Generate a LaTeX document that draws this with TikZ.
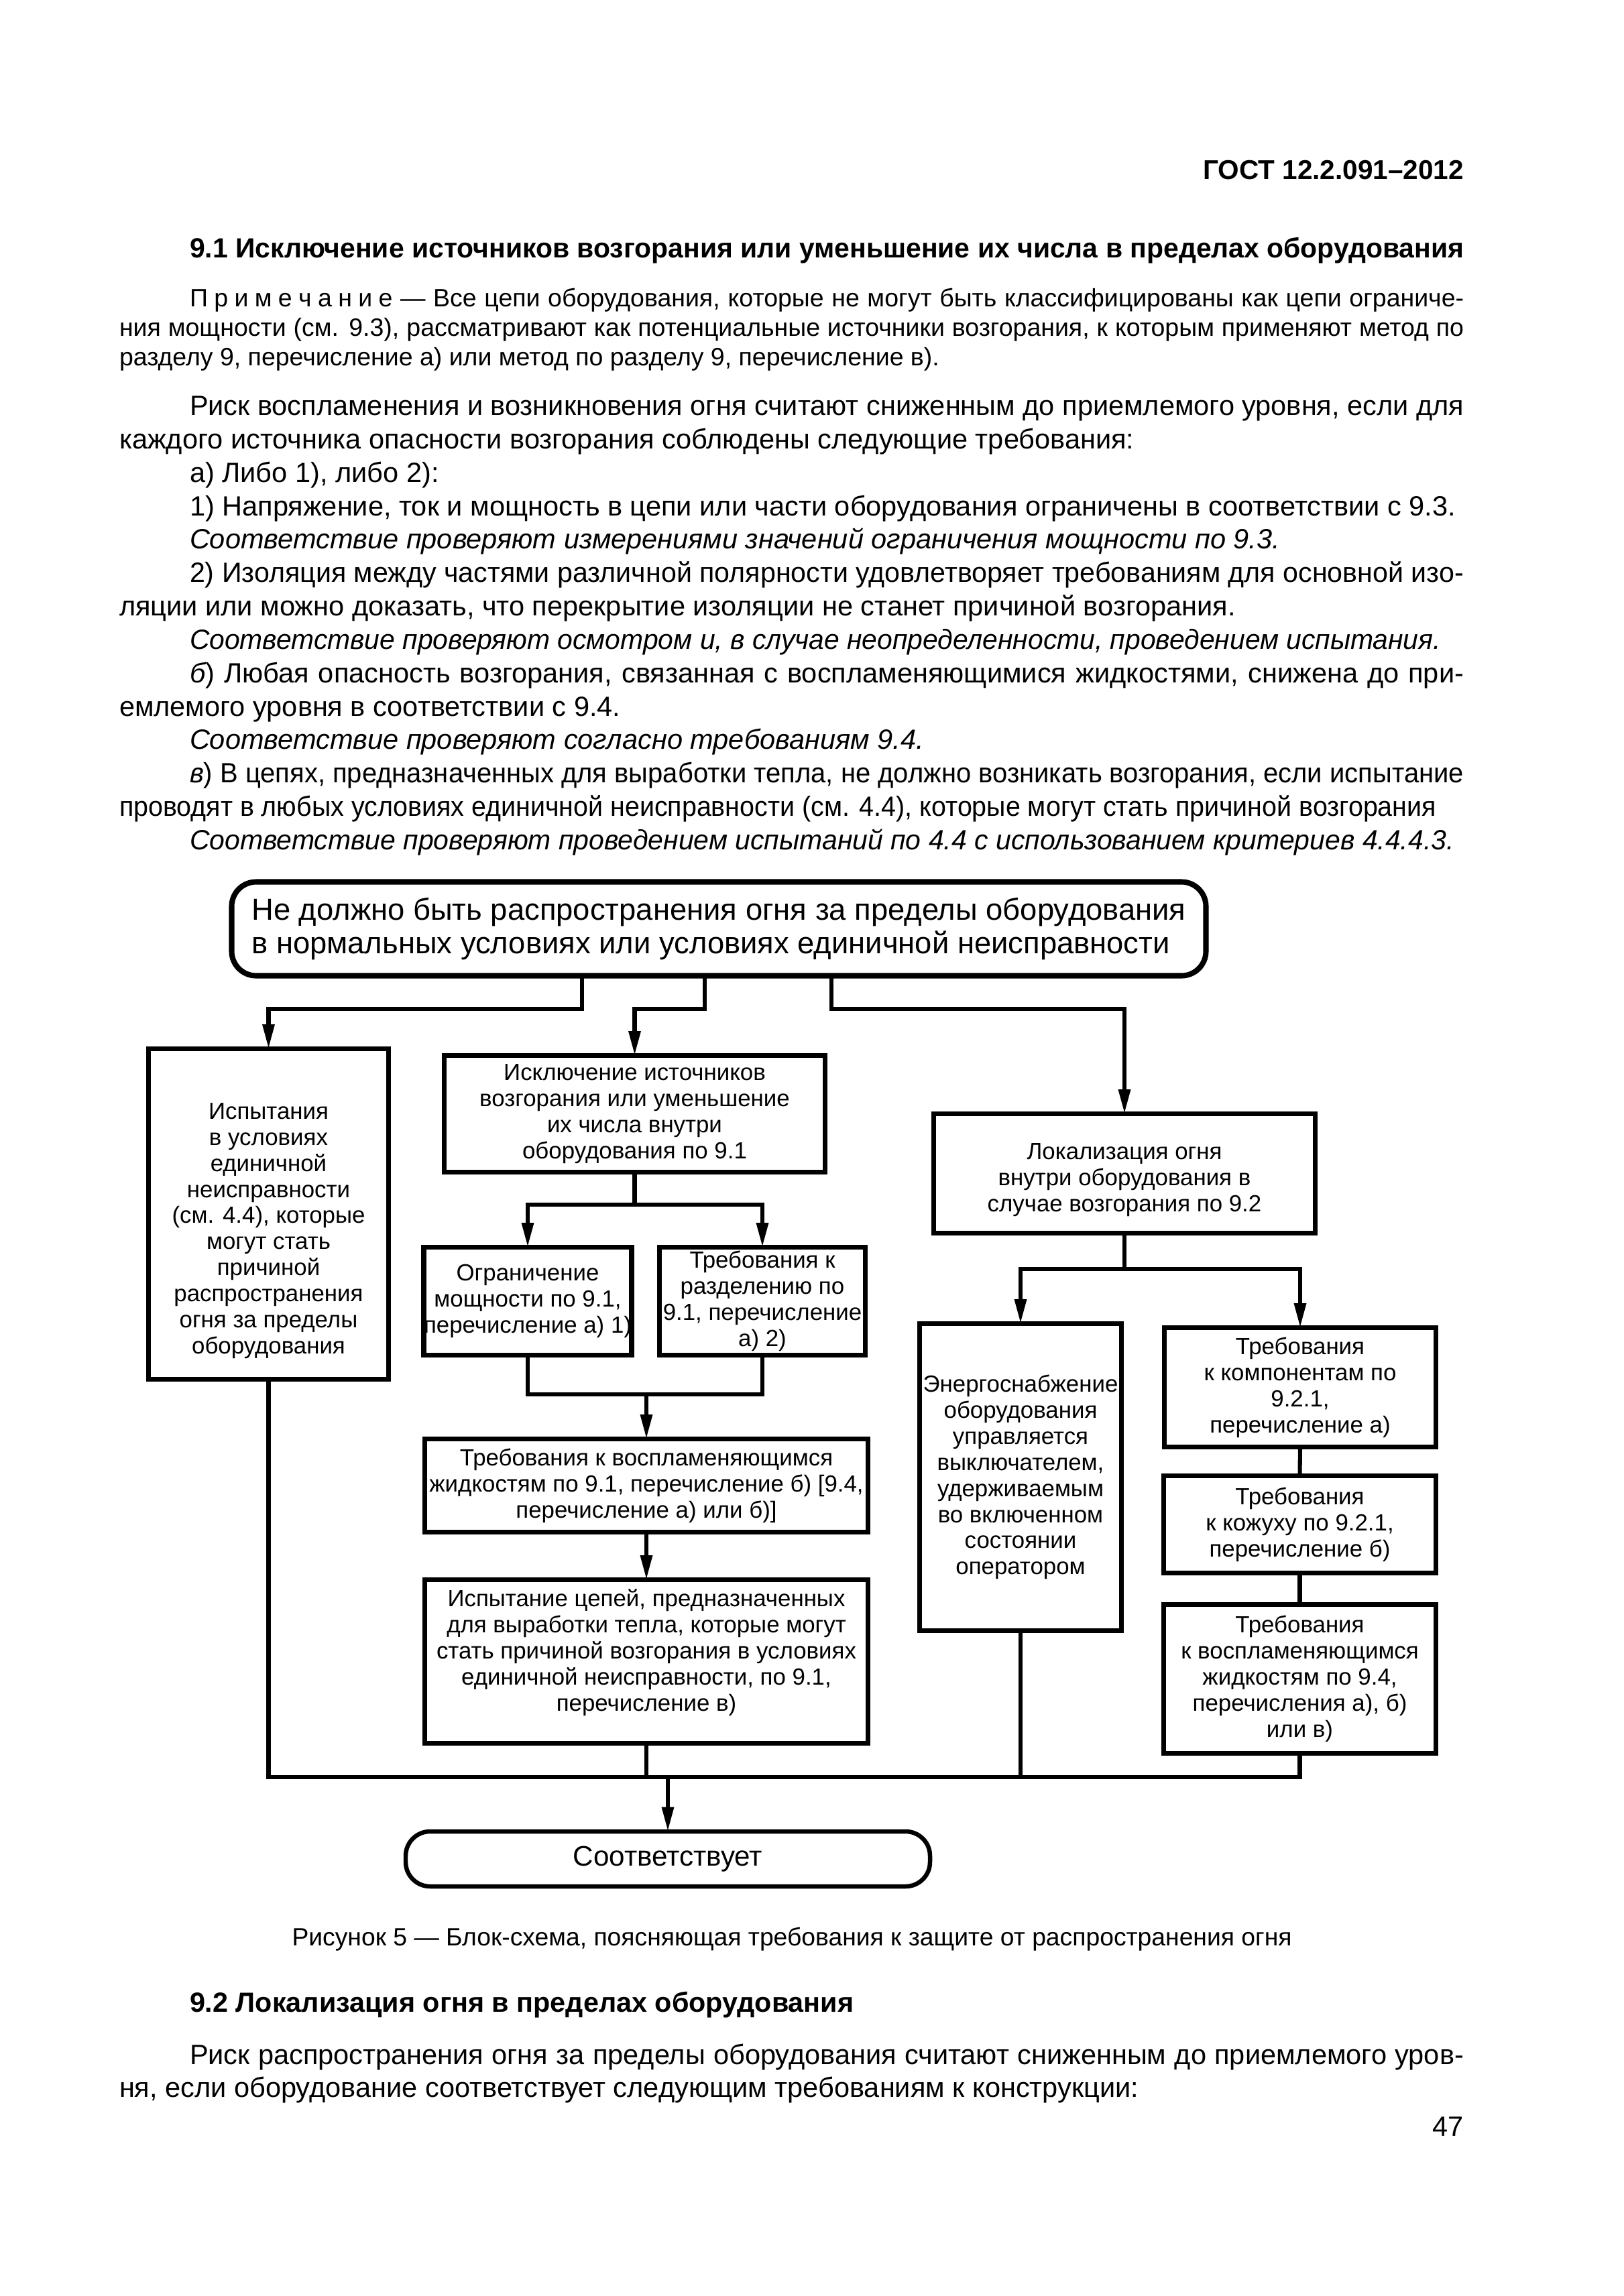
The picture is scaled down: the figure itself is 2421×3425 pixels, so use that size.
\documentclass[tikz,border=0pt]{standalone}
\usepackage{fontspec}
\usepackage{graphicx}
\setmainfont{Liberation Sans}
\usetikzlibrary{arrows.meta}
\newcommand\fbody{\fontsize{10.25}{12}\selectfont}
\newcommand\fnote{\fontsize{9.25}{11}\selectfont}
\newcommand\fhead{\fontsize{10.2}{12}\selectfont\bfseries}
\newcommand\flowfont{\fontsize{8.6}{9.6}\selectfont}
\newcommand\ftop{\fontsize{11.2}{12.45}\selectfont}
\newcommand\lsp{\hspace{0.25em}}
\newsavebox\fitbox
\newcommand\fitto[2]{\sbox\fitbox{#2}\ifdim\wd\fitbox>#1\relax\resizebox{#1}{\height}{\usebox\fitbox}\else\makebox[#1][s]{#2}\fi}
\begin{document}
\begin{tikzpicture}[x=0.08674mm,y=-0.08674mm]
\tikzset{
  every node/.style={inner sep=0pt, outer sep=0pt},
  ln/.style={anchor=base west, font=\fbody},
  nt/.style={anchor=base west, font=\fnote},
  box/.style={draw, line width=1.8pt, align=center, font=\flowfont},
  txt/.style={align=center, font=\flowfont},
  sz/.style 2 args={minimum width={#1*0.08674mm}, minimum height={#2*0.08674mm}},
  conn/.style={line width=1.5pt},
  arr/.style={line width=1.5pt, -{Triangle[length=9pt,width=4.2pt]}},
}
\useasboundingbox[fill=white] (0,0) rectangle (2421,3425);

% ---------- page text ----------
\node[anchor=base east, font=\fontsize{10}{12}\selectfont\bfseries] (hdr) at (2183,267) {ГОСТ 12.2.091–2012};
\node[anchor=base west, font=\fhead] (h91) at (283,384) {\fitto{164.81mm}{9.1 Исключение источников возгорания или уменьшение их числа в пределах оборудования}};

\node[nt] (n1) at (283,457) {\fitto{164.81mm}{П\lsp р\lsp и\lsp м\lsp е\lsp ч\lsp а\lsp н\lsp и\lsp е — Все цепи оборудования, которые не могут быть классифицированы как цепи ограниче-}};
\node[nt] (n2) at (178,501) {\fitto{173.91mm}{ния мощности (см. 9.3), рассматривают как потенциальные источники возгорания, к которым применяют метод по}};
\node[nt] (n3) at (178,545) {разделу 9, перечисление а) или метод по разделу 9, перечисление в).};

\node[ln] (t1) at (283,619) {\fitto{164.81mm}{Риск воспламенения и возникновения огня считают сниженным до приемлемого уровня, если для}};
\node[ln] (t2) at (178,669) {каждого источника опасности возгорания соблюдены следующие требования:};
\node[ln] (t3) at (283,719) {а) Либо 1), либо 2):};
\node[ln] (t4) at (283,769) {1) Напряжение, ток и мощность в цепи или части оборудования ограничены в соответствии с 9.3.};
\node[ln, font=\fbody\itshape] (t5) at (283,818) {Соответствие проверяют измерениями значений ограничения мощности по 9.3.};
\node[ln] (t6) at (283,868) {\fitto{164.81mm}{2) Изоляция между частями различной полярности удовлетворяет требованиям для основной изо-}};
\node[ln] (t7) at (178,918) {ляции или можно доказать, что перекрытие изоляции не станет причиной возгорания.};
\node[ln, font=\fbody\itshape] (t8) at (283,968) {\fitto{161.86mm}{Соответствие проверяют осмотром и, в случае неопределенности, проведением испытания.}};
\node[ln] (t9) at (283,1018) {\fitto{164.81mm}{{\itshape б}) Любая опасность возгорания, связанная с воспламеняющимися жидкостями, снижена до при-}};
\node[ln] (t10) at (178,1068) {емлемого уровня в соответствии с 9.4.};
\node[ln, font=\fbody\itshape] (t11) at (283,1117) {Соответствие проверяют согласно требованиям 9.4.};
\node[ln] (t12) at (283,1167) {\fitto{164.81mm}{{\itshape в}) В цепях, предназначенных для выработки тепла, не должно возникать возгорания, если испытание}};
\node[ln] (t13) at (178,1217) {\fitto{170.36mm}{проводят в любых условиях единичной неисправности (см. 4.4), которые могут стать причиной возгорания}};
\node[ln, font=\fbody\itshape] (t14) at (283,1267) {\fitto{163.59mm}{Соответствие проверяют проведением испытаний по 4.4 с использованием критериев 4.4.4.3.}};

% ---------- flowchart ----------
\node[box, sz={1453}{140}, rounded corners=9pt, line width=2pt, align=left, font=\ftop] (top) at (1072,1385.5)
  {Не должно быть распространения огня за пределы оборудования\\в нормальных условиях или условиях единичной неисправности};

\node[box, sz={358}{493}] (l1) at (400.5,1811) {};
\node[txt] (l1t) at (400.5,1836)
  {Испытания\\в условиях\\единичной\\неисправности\\(см. 4.4), которые\\могут стать\\причиной\\распространения\\огня за пределы\\оборудования};

\node[box, sz={568}{174}] (b2) at (946.5,1661.5) {Исключение источников\\возгорания или уменьшение\\их числа внутри\\оборудования по 9.1};
\node[box, sz={307}{161}] (b3) at (787,1941) {Ограничение\\мощности по 9.1,\\перечисление а) 1)};
\node[box, sz={307}{161}] (b4) at (1137,1941) {Требования к\\разделению по\\9.1, перечисление\\а) 2)};
\node[box, sz={661}{139}] (b5) at (964,2216) {Требования к воспламеняющимся\\жидкостям по 9.1, перечисление б) [9.4,\\перечисление а) или б)]};
\node[box, sz={661}{244}] (b6) at (964,2478.5) {};
\node[txt] (b6t) at (964,2465) {Испытание цепей, предназначенных\\для выработки тепла, которые могут\\стать причиной возгорания в условиях\\единичной неисправности, по 9.1,\\перечисление в)};
\node[box, sz={569}{178}] (b7) at (1677,1750.5) {};
\node[txt] (b7t) at (1677,1760) {Локализация огня\\внутри оборудования в\\случае возгорания по 9.2};
\node[box, sz={301}{458}] (b8) at (1522,2203.5) {Энергоснабжение\\оборудования\\управляется\\выключателем,\\удерживаемым\\во включенном\\состоянии\\оператором};
\node[box, sz={405}{178}] (b9) at (1939,2069.5) {Требования\\к компонентам по\\9.2.1,\\перечисление а)};
\node[box, sz={406}{145}] (b10) at (1938.5,2274) {Требования\\к кожуху по 9.2.1,\\перечисление б)};
\node[box, sz={406}{222}] (b11) at (1938.5,2504.5) {Требования\\к воспламеняющимся\\жидкостям по 9.4,\\перечисления а), б)\\или в)};
\node[box, sz={782}{82}, rounded corners=9pt, line width=1.6pt, font=\fontsize{10.4}{12}\selectfont] (bot) at (996,2773) {Соответствует};

% connectors
\coordinate (j1) at (868,1505);
\coordinate (j2) at (1051,1505);
\coordinate (j3) at (1240,1505);
\draw[arr] (top.south -| j1) -- (j1) -| (l1.north);
\draw[arr] (top.south -| j2) -- (j2) -| (b2.north);
\draw[arr] (top.south -| j3) -- (j3) -| (b7.north);

\coordinate (s2) at (946.5,1797);
\draw[conn] (b2.south) -- (s2);
\draw[arr] (s2) -| (b3.north);
\draw[arr] (s2) -| (b4.north);

\coordinate (m34) at (964,2080);
\draw[conn] (b3.south) |- (m34);
\draw[conn] (b4.south) |- (m34);
\draw[arr] (m34) -- (b5.north);
\draw[arr] (b5.south) -- (b6.north);

\coordinate (s7) at (1677,1893);
\draw[conn] (b7.south) -- (s7);
\draw[arr] (s7) -| (b8.north);
\draw[arr] (s7) -| (b9.north);
\draw[conn] (b9.south) -- (b10.north);
\draw[conn] (b10.south) -- (b11.north);

\coordinate (busR) at (1938.5,2651);
\draw[conn] (l1.south) |- (busR) -- (b11.south);
\draw[conn] (b6.south) -- (b6.south |- busR);
\draw[conn] (b8.south) -- (b8.south |- busR);
\draw[arr] (bot.north |- busR) -- (bot.north);

% ---------- text below ----------
\node[anchor=base, font=\fontsize{9.2}{11}\selectfont] (cap) at (1181,2902) {Рисунок 5 — Блок-схема, поясняющая требования к защите от распространения огня};
\node[anchor=base west, font=\fhead] (h92) at (283,3001) {9.2 Локализация огня в пределах оборудования};
\node[ln] (u1) at (283,3079) {\fitto{164.81mm}{Риск распространения огня за пределы оборудования считают сниженным до приемлемого уров-}};
\node[ln] (u2) at (178,3128.5) {ня, если оборудование соответствует следующим требованиям к конструкции:};
\node[anchor=base east, font=\fbody] (pg) at (2183,3186) {47};
\end{tikzpicture}
\end{document}
